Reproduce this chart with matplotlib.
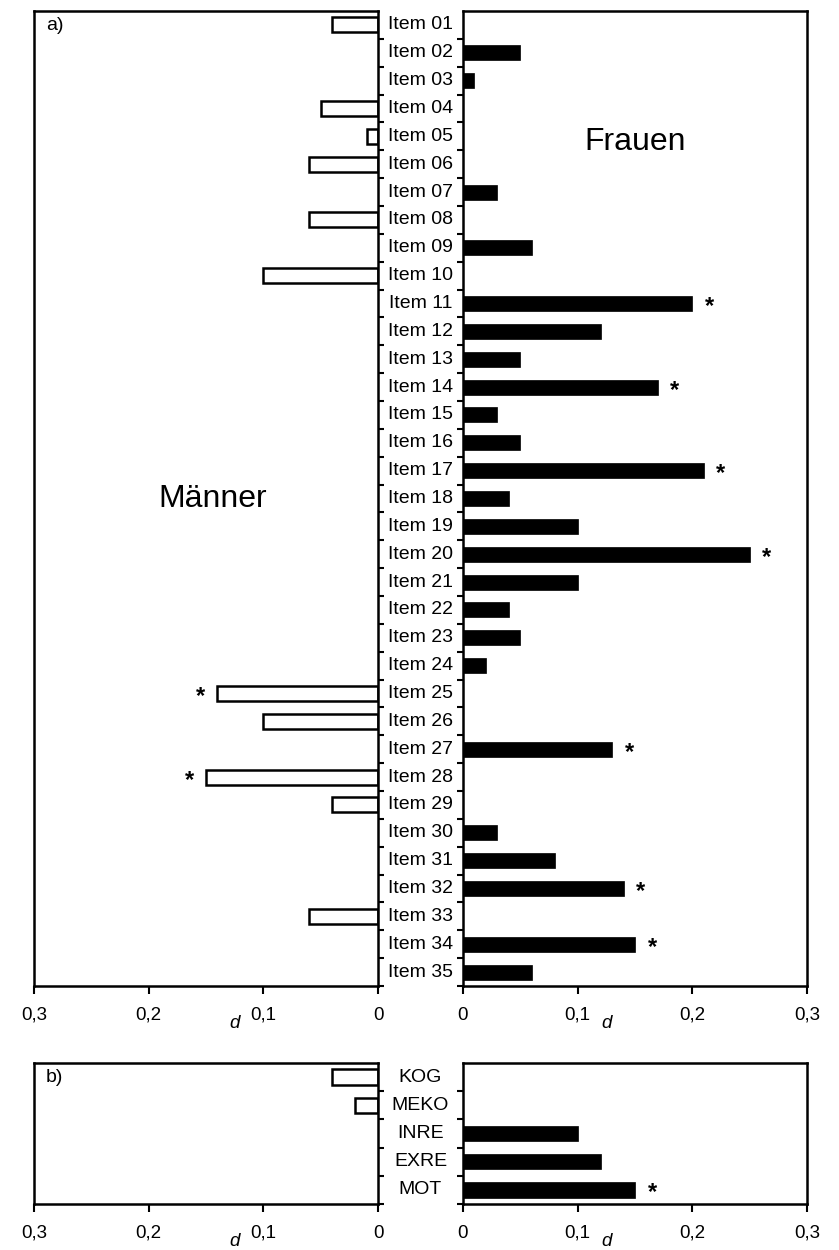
import numpy as np
import matplotlib
matplotlib.use("Agg")
import matplotlib.pyplot as plt
from matplotlib.transforms import blended_transform_factory

plt.rcParams['font.family'] = ['Liberation Sans', 'DejaVu Sans']

# panel a) items
items = ["Item %02d" % i for i in range(1, 36)]
men = [0.04, 0, 0, 0.05, 0.01, 0.06, 0, 0.06, 0, 0.10,
       0, 0, 0, 0, 0, 0, 0, 0, 0, 0,
       0, 0, 0, 0, 0.14, 0.10, 0, 0.15, 0.04, 0,
       0, 0, 0.06, 0, 0]
women = [0, 0.05, 0.01, 0, 0, 0, 0.03, 0, 0.06, 0,
         0.20, 0.12, 0.05, 0.17, 0.03, 0.05, 0.21, 0.04, 0.10, 0.25,
         0.10, 0.04, 0.05, 0.02, 0, 0, 0.13, 0, 0, 0.03,
         0.08, 0.14, 0, 0.15, 0.06]
men_sig = ["Item 25", "Item 28"]
women_sig = ["Item 11", "Item 14", "Item 17", "Item 20", "Item 27", "Item 32", "Item 34"]

# panel b) scales
scales = ["KOG", "MEKO", "INRE", "EXRE", "MOT"]
men_b = [0.04, 0.02, 0, 0, 0]
women_b = [0, 0, 0.10, 0.12, 0.15]
men_b_sig = []
women_b_sig = ["MOT"]

xticks = [0, 0.1, 0.2, 0.3]
xticklabels = ["0", "0,1", "0,2", "0,3"]

W, H = 839, 1250
fig = plt.figure(figsize=(W / 100, H / 100), dpi=100)


def px_box(x0, x1, y0, y1):
    return [x0 / W, 1 - y1 / H, (x1 - x0) / W, (y1 - y0) / H]


def panel(labels, mvals, wvals, msig, wsig, top, bottom, tag):
    axl = fig.add_axes(px_box(34, 378, top, bottom))
    axr = fig.add_axes(px_box(463, 807, top, bottom))
    n = len(labels)
    pos = np.arange(1, n + 1)
    # skip empty bars so no stray edge lines show at zero
    mpos = [p for p, v in zip(pos, mvals) if v > 0]
    mv = [v for v in mvals if v > 0]
    wpos = [p for p, v in zip(pos, wvals) if v > 0]
    wv = [v for v in wvals if v > 0]
    axl.barh(mpos, mv, height=0.54, color="white", edgecolor="black", linewidth=1.8)
    axr.barh(wpos, wv, height=0.54, color="black", edgecolor="black", linewidth=0.5)

    for ax in (axl, axr):
        ax.set_ylim(n + 0.5, 0.5)
        ax.set_xticks(xticks)
        ax.set_xticklabels(xticklabels, fontsize=13.5)
        ax.tick_params(axis="x", direction="out", length=6, width=1.5, pad=9)
        for s in ax.spines.values():
            s.set_linewidth(1.8)
        ax.set_yticks(np.arange(1.5, n + 0.6, 1.0))
        ax.set_yticklabels([])
        ax.annotate("d", xy=(0.125, 0), xycoords=("data", "axes fraction"),
                    xytext=(0, -38), textcoords="offset pixels",
                    ha="center", va="center", fontsize=13.5, style="italic")
    axl.set_xlim(0.3, 0)
    axr.set_xlim(0, 0.3)
    axl.yaxis.tick_right()
    axl.tick_params(axis="y", direction="out", length=4, width=1.5)
    axr.tick_params(axis="y", direction="out", length=4, width=1.5)

    for lab, v in zip(labels, mvals):
        if lab in msig:
            axl.annotate("*", xy=(v, labels.index(lab) + 1), xytext=(-17, -3),
                         textcoords="offset pixels", ha="center", va="center",
                         fontsize=17, fontweight="bold")
    for lab, v in zip(labels, wvals):
        if lab in wsig:
            axr.annotate("*", xy=(v, labels.index(lab) + 1), xytext=(17, -3),
                         textcoords="offset pixels", ha="center", va="center",
                         fontsize=17, fontweight="bold")

    tr = blended_transform_factory(fig.transFigure, axl.transData)
    for i, lab in enumerate(labels):
        fig.text(420.5 / W, i + 1, lab, transform=tr, ha="center", va="center", fontsize=14)

    axl.text(0.035, 1 - 14 / (bottom - top), tag, transform=axl.transAxes,
             ha="left", va="center", fontsize=14)
    return axl, axr


axl, axr = panel(items, men, women, men_sig, women_sig, 11, 986, "a)")
axl.text(0.52, 18, "Männer", ha="center", va="center", fontsize=23,
         transform=blended_transform_factory(axl.transAxes, axl.transData))
axr.text(0.5, 5.2, "Frauen", ha="center", va="center", fontsize=23,
         transform=blended_transform_factory(axr.transAxes, axr.transData))

panel(scales, men_b, women_b, men_b_sig, women_b_sig, 1063, 1204, "b)")

fig.savefig("out.png", dpi=100)
